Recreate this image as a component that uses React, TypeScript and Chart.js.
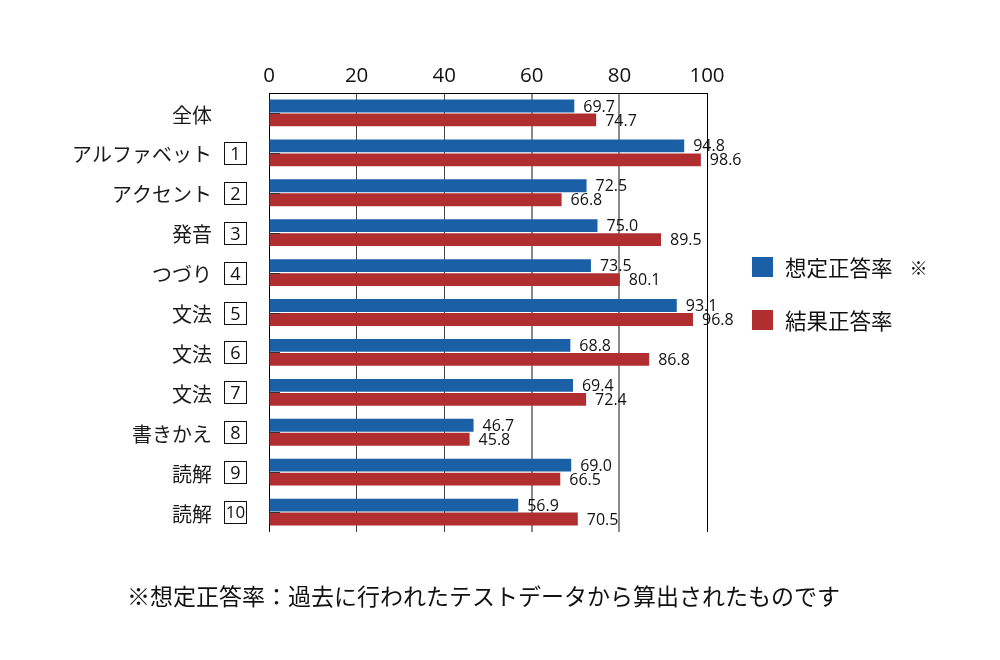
import React, { useEffect, useRef } from "react";
import { Chart, registerables } from "chart.js";

Chart.register(...registerables);

const categories = ["全体", "アルファベット", "アクセント", "発音", "つづり", "文法", "文法", "文法", "書きかえ", "読解", "読解"];
const sectionNumbers = ["", "1", "2", "3", "4", "5", "6", "7", "8", "9", "10"];
const expectedRate = [69.7, 94.8, 72.5, 75.0, 73.5, 93.1, 68.8, 69.4, 46.7, 69.0, 56.9];
const actualRate = [74.7, 98.6, 66.8, 89.5, 80.1, 96.8, 86.8, 72.4, 45.8, 66.5, 70.5];
const seriesNames = ["想定正答率", "結果正答率"];
const legendNote = "※";
const footnote = "※想定正答率：過去に行われたテストデータから算出されたものです";

const BLUE = "#1b5fa6";
const RED = "#b02e30";
const JP = '"Noto Sans CJK JP", "Noto Sans", sans-serif';
const NUM = '"Open Sans", "Noto Sans", sans-serif';

const annotations = {
  id: "annotations",
  afterDatasetsDraw(chart: any) {
    const { ctx, chartArea } = chart;
    const x = chart.scales.x;
    const y = chart.scales.y;
    ctx.save();

    // short ticks from the value axis at each category
    ctx.strokeStyle = "#333";
    ctx.lineWidth = 1;
    categories.forEach((_, i) => {
      const py = Math.round(y.getPixelForValue(i)) + 0.5;
      ctx.beginPath();
      ctx.moveTo(chartArea.left, py);
      ctx.lineTo(chartArea.left + 11, py);
      ctx.stroke();
    });

    // value labels at bar ends
    ctx.fillStyle = "#111";
    ctx.font = `16px ${NUM}`;
    ctx.textAlign = "left";
    ctx.textBaseline = "middle";
    chart.data.datasets.forEach((ds: any, di: number) => {
      const meta = chart.getDatasetMeta(di);
      meta.data.forEach((bar: any, i: number) => {
        const v = ds.data[i];
        ctx.fillText(v.toFixed(1), x.getPixelForValue(v) + 9, bar.y + 1);
      });
    });

    // category labels with boxed section numbers
    categories.forEach((name, i) => {
      const cy = y.getPixelForValue(i);
      ctx.font = `20px ${JP}`;
      ctx.fillStyle = "#1a1a1a";
      ctx.textAlign = "right";
      ctx.textBaseline = "middle";
      ctx.fillText(name, 212, cy + 2);
      const num = sectionNumbers[i];
      if (num) {
        ctx.strokeStyle = "#111";
        ctx.lineWidth = 1;
        ctx.strokeRect(224.5, Math.round(cy) - 10.5, 22, 22);
        ctx.textAlign = "center";
        ctx.font = num.length > 1 ? `17px ${NUM}` : `18px ${NUM}`;
        ctx.fillStyle = "#111";
        ctx.fillText(num, 235.5, Math.round(cy) + 1.5);
      }
    });

    // legend
    const legendRows = [
      { color: BLUE, text: seriesNames[0], note: legendNote, y: 267 },
      { color: RED, text: seriesNames[1], note: "", y: 320 },
    ];
    legendRows.forEach((row) => {
      ctx.fillStyle = row.color;
      ctx.fillRect(752, row.y - 10, 21, 20);
      ctx.fillStyle = "#111";
      ctx.textAlign = "left";
      ctx.textBaseline = "middle";
      ctx.font = `21.5px ${JP}`;
      ctx.fillText(row.text, 785, row.y + 1);
      if (row.note) {
        const w = ctx.measureText(row.text).width;
        ctx.font = `18px ${JP}`;
        ctx.fillText(row.note, 785 + w + 17, row.y + 1);
      }
    });

    // footnote
    ctx.font = `23px ${JP}`;
    ctx.fillStyle = "#111";
    ctx.textAlign = "left";
    ctx.textBaseline = "middle";
    ctx.fillText(footnote, 127, 596);

    ctx.restore();
  },
};

function gridColor(v: number) {
  if (v === 0 || v === 100) return "#000";
  if (v <= 40) return "#444";
  return "#8a8a8a";
}

export default function App() {
  const ref = useRef<HTMLCanvasElement>(null);

  useEffect(() => {
    if (!ref.current) return;
    const chart = new Chart(ref.current, {
      type: "bar",
      data: {
        labels: categories,
        datasets: [
          {
            label: seriesNames[0],
            data: expectedRate,
            backgroundColor: BLUE,
            categoryPercentage: 0.7,
            barPercentage: 0.92,
          },
          {
            label: seriesNames[1],
            data: actualRate,
            backgroundColor: RED,
            categoryPercentage: 0.7,
            barPercentage: 0.92,
          },
        ],
      },
      options: {
        indexAxis: "y",
        responsive: false,
        animation: false,
        layout: { padding: { left: 269, right: 293, top: 53, bottom: 128 } },
        plugins: { legend: { display: false }, tooltip: { enabled: false } },
        scales: {
          x: {
            position: "top",
            min: 0,
            max: 100,
            ticks: {
              stepSize: 20,
              padding: 5,
              color: "#111",
              font: { family: NUM, size: 20.5 },
            },
            grid: {
              drawTicks: false,
              color: (ctx: any) => gridColor(ctx.tick ? ctx.tick.value : 0),
              lineWidth: (ctx: any) => {
                const v = ctx.tick ? ctx.tick.value : 0;
                return v === 60 || v === 80 ? 2 : 1;
              },
            },
            border: { display: true, color: "#000", width: 1 },
            afterFit: (scale: any) => {
              scale.height = 40;
            },
          },
          y: {
            display: false,
          },
        },
      },
      plugins: [annotations],
    });
    return () => chart.destroy();
  }, []);

  return (
    <div style={{ position: "fixed", left: 0, top: 0, width: 1000, height: 660, background: "#fff" }}>
      <canvas ref={ref} width={1000} height={660} style={{ width: 1000, height: 660, display: "block" }} />
    </div>
  );
}
